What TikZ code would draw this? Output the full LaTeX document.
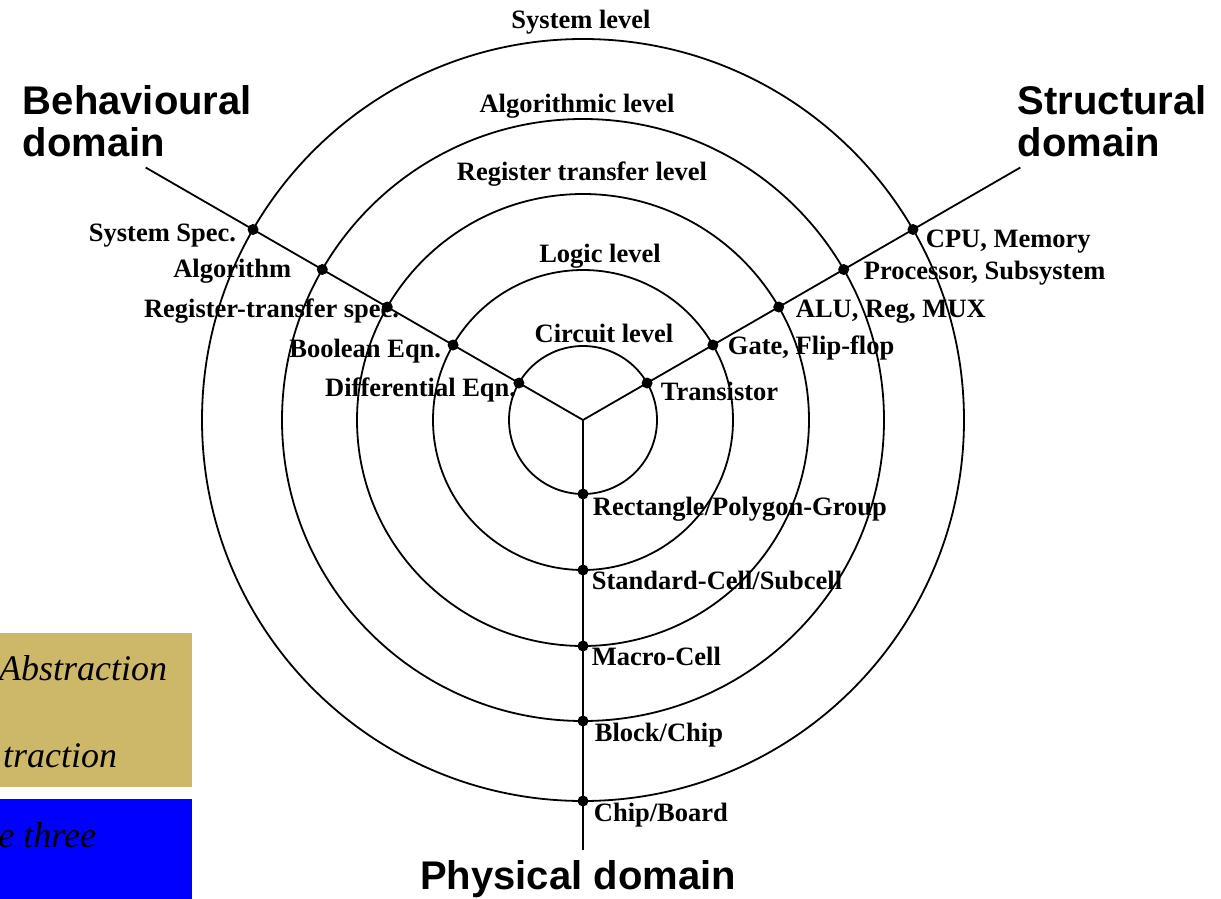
\documentclass[tikz,border=0pt]{standalone}
\usepackage{fontspec}
\setmainfont{Liberation Serif}
\newfontfamily\domainfont{Liberation Sans}
\usetikzlibrary{calc}
\definecolor{boxtan}{RGB}{205,183,104}
\begin{document}
\begin{tikzpicture}[x=1pt, y=1pt, line width=1.8pt,
  junction/.style={circle, fill, inner sep=0pt, minimum size=11pt},
  lvl/.style={font=\fontsize{26.5}{30}\selectfont\bfseries, inner sep=0pt, anchor=base},
  lblw/.style={font=\fontsize{26.5}{30}\selectfont\bfseries, inner sep=0pt, anchor=base west},
  lble/.style={font=\fontsize{26.5}{30}\selectfont\bfseries, inner sep=0pt, anchor=base east},
  domlbl/.style={font=\domainfont\fontsize{40}{42}\selectfont\bfseries, inner sep=0pt, align=left},
  slidetext/.style={font=\fontsize{36}{40}\selectfont\itshape, inner sep=0pt, anchor=base east}]
\useasboundingbox (0,0) rectangle (1221,-899);
\fill[boxtan] (0,-633) rectangle (192,-787);
\fill[blue] (0,-799) rectangle (192,-899);
\node[slidetext] (abs1) at (168,-680) {Abstraction};
\node[slidetext] (abs2) at (118,-767) {traction};
\node[slidetext] (three) at (97,-847) {e three};
\coordinate (c) at (583,-420);
\draw (c) circle[radius=74pt];
\draw (c) circle[radius=150pt];
\draw (c) circle[radius=226pt];
\draw (c) circle[radius=301pt];
\draw (c) circle[radius=381pt];
\coordinate (behend) at ($(c)+(150:505pt)$);
\coordinate (strend) at ($(c)+(30:505pt)$);
\coordinate (phyend) at ($(c)+(270:430pt)$);
\draw (c) -- (behend);
\draw (c) -- (strend);
\draw (c) -- (phyend);
\node[junction] (b1) at ($(c)+(150:74pt)$) {};
\node[junction] (b2) at ($(c)+(150:150pt)$) {};
\node[junction] (b3) at ($(c)+(150:226pt)$) {};
\node[junction] (b4) at ($(c)+(150:301pt)$) {};
\node[junction] (b5) at ($(c)+(150:381pt)$) {};
\node[junction] (s1) at ($(c)+(30:74pt)$) {};
\node[junction] (s2) at ($(c)+(30:150pt)$) {};
\node[junction] (s3) at ($(c)+(30:226pt)$) {};
\node[junction] (s4) at ($(c)+(30:301pt)$) {};
\node[junction] (s5) at ($(c)+(30:381pt)$) {};
\node[junction] (p1) at ($(c)+(270:74pt)$) {};
\node[junction] (p2) at ($(c)+(270:150pt)$) {};
\node[junction] (p3) at ($(c)+(270:226pt)$) {};
\node[junction] (p4) at ($(c)+(270:301pt)$) {};
\node[junction] (p5) at ($(c)+(270:381pt)$) {};
\node[lvl] (syslvl) at (581,-29) {System level};
\node[lvl] (alglvl) at (577,-112) {Algorithmic level};
\node[lvl] (rtlvl) at (582,-180) {Register transfer level};
\node[lvl] (loglvl) at (600,-262) {Logic level};
\node[lvl] (cirlvl) at (604,-342) {Circuit level};
\node[lble] (sysspec) at (237,-241) {System Spec.};
\node[lble] (algo) at (292,-277) {Algorithm};
\node[lble] (rtspec) at (400,-317) {Register-transfer spec.};
\node[lble] (booleq) at (442,-357) {Boolean Eqn.};
\node[lble] (diffeq) at (517,-396) {Differential Eqn.};
\node[lblw] (cpu) at (925,-247) {CPU, Memory};
\node[lblw] (proc) at (863,-279) {Processor, Subsystem};
\node[lblw] (alu) at (795,-317) {ALU, Reg, MUX};
\node[lblw] (gate) at (727,-354) {Gate, Flip-flop};
\node[lblw] (trans) at (660,-400) {Transistor};
\node[lblw] (rect) at (592,-515) {Rectangle/Polygon-Group};
\node[lblw] (stdcell) at (591,-589) {Standard-Cell/Subcell};
\node[lblw] (macro) at (591,-665) {Macro-Cell};
\node[lblw] (block) at (594,-741) {Block/Chip};
\node[lblw] (board) at (593,-821) {Chip/Board};
\node[domlbl, anchor=north west] (behav) at (22,-85) {Behavioural\\domain};
\node[domlbl, anchor=north west] (struct) at (1017,-85) {Structural\\domain};
\node[domlbl, anchor=base] (phys) at (578,-889) {Physical domain};
\end{tikzpicture}
\end{document}
